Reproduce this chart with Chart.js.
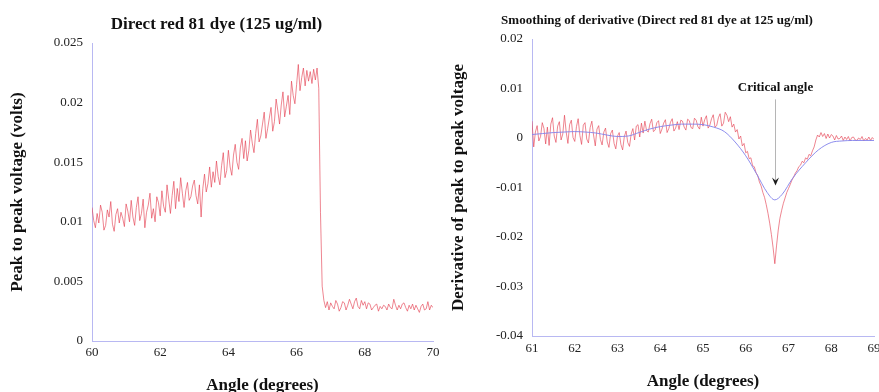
<!DOCTYPE html>
<html>
<head>
<meta charset="utf-8">
<script src="https://cdn.jsdelivr.net/npm/chart.js@4/dist/chart.umd.min.js"></script>
<style>
  html, body { margin: 0; padding: 0; background: #fff; }
  #wrap { position: relative; width: 879px; height: 392px; overflow: hidden; background: #fff; }
  .pane { position: absolute; top: 0; width: 526px; height: 392px; }
  canvas { display: block; }
</style>
</head>
<body>
<div id="wrap">
  <div class="pane" style="left:0px"><canvas id="leftChart" width="526" height="392"></canvas></div>
  <div class="pane" style="left:440px"><canvas id="rightChart" width="526" height="392"></canvas></div>
</div>
<script>
// ---------------- Left chart data: peak to peak voltage vs angle ----------------
const leftAngleStart = 60;
const leftAngleStep = 0.05;
const leftVoltage = [
  0.0112, 0.0101, 0.0095, 0.0107, 0.0099, 0.0114, 0.0108, 0.0093, 0.0097, 0.0110,
  0.0104, 0.0117, 0.0098, 0.0092, 0.0106, 0.0111, 0.0099, 0.0108, 0.0103, 0.0096,
  0.0115, 0.0109, 0.0100, 0.0118, 0.0104, 0.0097, 0.0112, 0.0121, 0.0101, 0.0107,
  0.0119, 0.0095, 0.0108, 0.0114, 0.0124, 0.0103, 0.0111, 0.0100, 0.0121, 0.0116,
  0.0105, 0.0126, 0.0113, 0.0108, 0.0131, 0.0119, 0.0107, 0.0122, 0.0134, 0.0111,
  0.0128, 0.0117, 0.0137, 0.0124, 0.0112, 0.0126, 0.0133, 0.0118, 0.0121, 0.0130,
  0.0135, 0.0122, 0.0115, 0.0131, 0.0104, 0.0128, 0.0140, 0.0125, 0.0132, 0.0146,
  0.0129, 0.0142, 0.0133, 0.0151, 0.0138, 0.0131, 0.0147, 0.0158, 0.0137, 0.0143,
  0.0160, 0.0146, 0.0139, 0.0156, 0.0165, 0.0150, 0.0144, 0.0162, 0.0170, 0.0153,
  0.0168, 0.0151, 0.0160, 0.0177, 0.0166, 0.0158, 0.0174, 0.0186, 0.0167, 0.0172,
  0.0182, 0.0192, 0.0170, 0.0178, 0.0187, 0.0196, 0.0176, 0.0184, 0.0203, 0.0193,
  0.0182, 0.0198, 0.0209, 0.0188, 0.0197, 0.0206, 0.0190, 0.0218, 0.0206, 0.0199,
  0.0215, 0.0232, 0.0210, 0.0221, 0.0229, 0.0214, 0.0227, 0.0218, 0.0226, 0.0216,
  0.0228, 0.0219, 0.0229, 0.0212, 0.0108, 0.0046, 0.0034, 0.0028, 0.0033, 0.0026,
  0.0032, 0.0029, 0.0027, 0.0034, 0.0031, 0.0025, 0.0028, 0.0033, 0.0032, 0.0026,
  0.0030, 0.0035, 0.0031, 0.0027, 0.0033, 0.0036, 0.0029, 0.0027, 0.0034, 0.0030,
  0.0033, 0.0027, 0.0032, 0.0031, 0.0026, 0.0028, 0.0030, 0.0031, 0.0025, 0.0029,
  0.0027, 0.0030, 0.0029, 0.0026, 0.0031, 0.0028, 0.0027, 0.0035, 0.0030, 0.0026,
  0.0030, 0.0027, 0.0031, 0.0032, 0.0028, 0.0025, 0.0030, 0.0027, 0.0031, 0.0026,
  0.0030, 0.0027, 0.0024, 0.0029, 0.0031, 0.0026, 0.0027, 0.0033, 0.0026, 0.0030,
  0.0028
];
const leftXTickLabels = ['60', '62', '64', '66', '68', '70'];
const leftYTickLabels = ['0', '0.005', '0.01', '0.015', '0.02', '0.025'];

// ---------------- Right chart data: derivative and its smoothing ----------------
const rightAngleStart = 61;
const rightAngleStep = 0.04;
const rightDerivative = [
  0.0034, -0.0018, 0.0012, 0.0025, -0.0006, 0.0003, 0.0031, 0.0019, -0.0012, 0.0022,
  -0.0015, 0.0028, 0.0041, 0.0004, -0.0009, 0.0024, 0.0033, -0.0004, 0.0008, 0.0046,
  0.0012, -0.0011, 0.0027, 0.0036, 0.0001, -0.0007, 0.0023, 0.0039, 0.0005, -0.0013,
  0.0026, 0.0031, -0.0002, -0.0010, 0.0021, 0.0034, 0.0006, -0.0016, 0.0018, 0.0025,
  -0.0003, -0.0014, 0.0012, 0.0020, -0.0008, -0.0019, 0.0009, 0.0016, -0.0011, -0.0022,
  0.0004, 0.0011, -0.0013, -0.0024, 0.0003, 0.0014, -0.0009, -0.0017, 0.0008, 0.0019,
  -0.0004, 0.0024, 0.0027, 0.0002, 0.0030, 0.0010, 0.0034, 0.0015, 0.0012, 0.0029,
  0.0038, 0.0013, 0.0016, 0.0031, 0.0035, 0.0009, 0.0018, 0.0030, 0.0037, 0.0011,
  0.0019, 0.0032, 0.0039, 0.0014, 0.0020, 0.0033, 0.0017, 0.0036, 0.0034, 0.0022,
  0.0016, 0.0038, 0.0035, 0.0021, 0.0019, 0.0040, 0.0036, 0.0023, 0.0018, 0.0042,
  0.0024, 0.0037, 0.0045, 0.0020, 0.0026, 0.0039, 0.0047, 0.0022, 0.0025, 0.0041,
  0.0049, 0.0024, 0.0030, 0.0052, 0.0046, 0.0033, 0.0043, 0.0022, 0.0028, 0.0012,
  0.0017, -0.0002, 0.0004, -0.0016, -0.0011, -0.0030, -0.0027, -0.0042, -0.0040, -0.0056,
  -0.0058, -0.0070, -0.0076, -0.0089, -0.0097, -0.0110, -0.0120, -0.0135, -0.0152, -0.0172,
  -0.0195, -0.0222, -0.0254, -0.0218, -0.0186, -0.0162, -0.0146, -0.0132, -0.0121, -0.0110,
  -0.0102, -0.0094, -0.0085, -0.0079, -0.0071, -0.0066, -0.0058, -0.0055, -0.0047, -0.0050,
  -0.0040, -0.0043, -0.0033, -0.0036, -0.0026, -0.0018, -0.0004, 0.0006, 0.0002, 0.0011,
  0.0003, 0.0009, -0.0001, 0.0008, 0.0000, 0.0007, 0.0004, -0.0004, 0.0005, -0.0002,
  -0.0001, 0.0004, -0.0005, 0.0002, -0.0003, 0.0003, -0.0006, 0.0001, 0.0002, -0.0004,
  -0.0005, 0.0000, -0.0003, 0.0003, -0.0006, -0.0001, -0.0004, 0.0002, -0.0005, 0.0001,
  -0.0003
];
const smoothAngles = [61, 61.25, 61.5, 61.75, 62, 62.25, 62.5, 62.75, 63, 63.25, 63.5, 63.75,
  64, 64.25, 64.5, 64.75, 65, 65.25, 65.5, 65.75, 66, 66.25, 66.5, 66.68, 66.85, 67.1, 67.4,
  67.7, 68, 68.25, 68.5, 68.75, 69];
const smoothDerivative = [0.0007, 0.0009, 0.0011, 0.0012, 0.0013, 0.0012, 0.0010, 0.0006, 0.0003,
  0.0004, 0.0011, 0.0018, 0.0023, 0.0026, 0.0028, 0.0028, 0.0027, 0.0022, 0.0013, -0.0008,
  -0.0036, -0.0072, -0.0110, -0.0125, -0.0114, -0.0081, -0.0050, -0.0024, -0.0009, -0.0006,
  -0.0005, -0.0005, -0.0005];
const rightXTickLabels = ['61', '62', '63', '64', '65', '66', '67', '68', '69'];
const rightYTickLabels = ['-0.04', '-0.03', '-0.02', '-0.01', '0', '0.01', '0.02'];

// annotation
const criticalLabel = 'Critical angle';
const criticalAngle = 66.68;
const criticalLabelValue = 0.0102;
const criticalArrowFrom = 0.0078;
const criticalArrowTo = -0.0096;

// ---------------- common styling ----------------
const SERIF = '"Liberation Serif", "Times New Roman", Times, serif';
const AXIS_COLOR = '#b8b8f2';
const RED = 'rgba(228, 60, 78, 0.62)';
const BLUE = 'rgba(130, 130, 235, 0.9)';

function pts(start, step, values) {
  return values.map((v, i) => ({ x: start + i * step, y: v }));
}

function axisCommon() {
  return {
    grid: { display: true, drawOnChartArea: false, drawTicks: false, color: 'rgba(0,0,0,0)' },
    border: { display: true, color: AXIS_COLOR, width: 1 }
  };
}

function makeChart(canvasId, cfg) {
  return new Chart(document.getElementById(canvasId), {
    type: 'line',
    data: { datasets: cfg.datasets },
    plugins: cfg.plugins || [],
    options: {
      responsive: false,
      animation: false,
      events: [],
      layout: { padding: { left: 0, right: cfg.padRight, top: 0, bottom: 0 } },
      plugins: {
        legend: { display: false },
        tooltip: { enabled: false },
        title: {
          display: true,
          text: cfg.title,
          color: '#111',
          font: { family: SERIF, size: cfg.titleSize, weight: 'bold', lineHeight: 1.2 },
          padding: cfg.titlePadding
        }
      },
      elements: { point: { radius: 0 }, line: { borderWidth: 1 } },
      scales: {
        x: Object.assign(axisCommon(), {
          type: 'linear',
          min: cfg.xMin, max: cfg.xMax,
          afterFit: (s) => { s.height = cfg.xHeight; },
          ticks: {
            stepSize: cfg.xStep, autoSkip: false, maxRotation: 0, padding: cfg.xTickPad,
            color: '#222', font: { family: SERIF, size: 13 },
            callback: (v, i) => cfg.xLabels[i]
          },
          title: {
            display: true, text: 'Angle (degrees)', color: '#111',
            font: { family: SERIF, size: 17, weight: 'bold', lineHeight: '12px' },
            padding: { top: 0, bottom: cfg.xTitlePadBottom }
          }
        }),
        y: Object.assign(axisCommon(), {
          min: cfg.yMin, max: cfg.yMax,
          afterFit: (s) => { s.width = 92; },
          ticks: {
            stepSize: cfg.yStep, padding: 9,
            color: '#222', font: { family: SERIF, size: 13 },
            callback: (v, i) => cfg.yLabels[i]
          },
          title: {
            display: true, text: cfg.yTitle, color: '#111',
            font: { family: SERIF, size: 17, weight: 'bold', lineHeight: '14px' },
            padding: { top: cfg.yTitlePadTop, bottom: 0 }
          }
        })
      }
    }
  });
}

// ---------------- Left chart ----------------
makeChart('leftChart', {
  title: 'Direct red 81 dye (125 ug/ml)',
  titleSize: 17,
  titlePadding: { top: 14, bottom: 8.6 },
  padRight: 93,
  xMin: 60, xMax: 70, xStep: 2, xLabels: leftXTickLabels, xHeight: 51, xTickPad: 4, xTitlePadBottom: 0,
  yMin: 0, yMax: 0.025, yStep: 0.005, yLabels: leftYTickLabels,
  yTitle: 'Peak to peak voltage (volts)', yTitlePadTop: 11,
  datasets: [{
    data: pts(leftAngleStart, leftAngleStep, leftVoltage),
    borderColor: RED, borderWidth: 1, tension: 0, fill: false
  }]
});

// ---------------- Right chart ----------------
const criticalPlugin = {
  id: 'criticalAngle',
  afterDatasetsDraw(chart) {
    const { ctx, scales: { x, y } } = chart;
    const px = Math.round(x.getPixelForValue(criticalAngle)) + 0.5;
    const yText = y.getPixelForValue(criticalLabelValue);
    const yFrom = y.getPixelForValue(criticalArrowFrom);
    const yTip = y.getPixelForValue(criticalArrowTo);
    ctx.save();
    ctx.font = 'bold 13px ' + SERIF;
    ctx.fillStyle = '#111';
    ctx.textAlign = 'center';
    ctx.textBaseline = 'middle';
    ctx.fillText(criticalLabel, px, yText);
    ctx.strokeStyle = '#b5b5b5';
    ctx.lineWidth = 1;
    ctx.beginPath();
    ctx.moveTo(px, yFrom);
    ctx.lineTo(px, yTip - 5);
    ctx.stroke();
    ctx.fillStyle = '#1a1a1a';
    ctx.beginPath();
    ctx.moveTo(px - 3.5, yTip - 8);
    ctx.lineTo(px, yTip - 5);
    ctx.lineTo(px + 3.5, yTip - 8);
    ctx.lineTo(px, yTip);
    ctx.closePath();
    ctx.fill();
    ctx.restore();
  }
};

makeChart('rightChart', {
  title: 'Smoothing of derivative (Direct red 81 dye at 125 ug/ml)',
  titleSize: 13,
  titlePadding: { top: 13, bottom: 10.4 },
  padRight: 92,
  xMin: 61, xMax: 69, xStep: 1, xLabels: rightXTickLabels, xHeight: 56, xTickPad: 5, xTitlePadBottom: 4,
  yMin: -0.04, yMax: 0.02, yStep: 0.01, yLabels: rightYTickLabels,
  yTitle: 'Derivative of peak to peak voltage', yTitlePadTop: 12,
  plugins: [criticalPlugin],
  datasets: [
    {
      data: smoothAngles.map((a, i) => ({ x: a, y: smoothDerivative[i] })),
      borderColor: BLUE, borderWidth: 1, cubicInterpolationMode: 'monotone', fill: false
    },
    {
      data: pts(rightAngleStart, rightAngleStep, rightDerivative),
      borderColor: RED, borderWidth: 1, tension: 0, fill: false
    }
  ]
});
</script>
</body>
</html>
